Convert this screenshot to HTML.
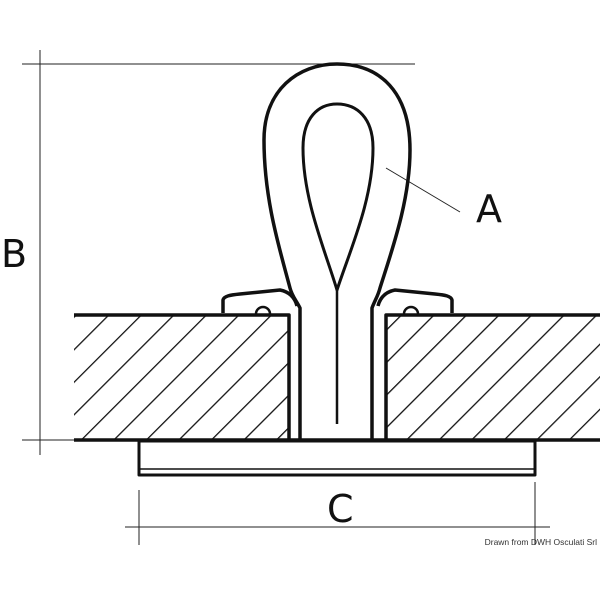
<!DOCTYPE html>
<html><head><meta charset="utf-8"><style>html,body{margin:0;padding:0;background:#fff}svg{display:block}</style></head><body>
<svg width="600" height="600" viewBox="0 0 600 600" xmlns="http://www.w3.org/2000/svg">
<defs>
<pattern id="h" patternUnits="userSpaceOnUse" width="23" height="23" patternTransform="rotate(45)">
<line x1="0" y1="0" x2="0" y2="23" stroke="#111" stroke-width="2.6"/>
</pattern>
</defs>
<g stroke="#222" stroke-width="1" fill="none">
<line x1="22" y1="64" x2="415" y2="64"/>
<line x1="40" y1="50" x2="40" y2="455"/>
<line x1="22" y1="440" x2="74" y2="440"/>
<line x1="125" y1="527" x2="550" y2="527"/>
<line x1="139" y1="490" x2="139" y2="545"/>
<line x1="535" y1="482" x2="535" y2="545"/>
<line x1="386" y1="168" x2="460" y2="212"/>
</g>
<rect x="74" y="315" width="215" height="125" fill="url(#h)"/>
<rect x="386" y="315" width="214" height="125" fill="url(#h)"/>
<g stroke="#111" stroke-width="3.5" fill="none" stroke-linejoin="round">
<path d="M74 315 H289 V440"/>
<path d="M600 315 H386 V440"/>
<line x1="74" y1="440" x2="600" y2="440"/>
<rect x="139" y="441" width="396" height="34" stroke-width="3"/>
<line x1="139" y1="469" x2="535" y2="469" stroke-width="1.5"/>
<path d="M300 440 V308 C296 300 292 296 290 288 C280 250 264 200 264 140 C264 90 298 64 337 64 C380 64 410 92 410 150 C410 200 392 250 380 288 C378 296 375 300 372 308 V440"/>
<path d="M337 290 C325 250 303 200 303 148 C303 118 318 104 337 104 C357 104 373 118 373 148 C373 200 350 250 337 290 Z" stroke-width="3"/>
<line x1="337" y1="290" x2="337" y2="424" stroke-width="2.5"/>
<path d="M223 313 V300 C224 296 230 295 240 294 L280 290 C290 292 295 298 297 306"/>
<path d="M452 313 V300 C451 296 445 295 435 294 L395 290 C385 292 380 298 378 306"/>
<path d="M256 314 A7 7 0 0 1 270 314" stroke-width="2.5"/>
<path d="M404 314 A7 7 0 0 1 418 314" stroke-width="2.5"/>
</g>
<g font-family="'DejaVu Sans','Liberation Sans',sans-serif" fill="#111">
<text x="1" y="267" font-size="38">B</text>
<text x="476" y="222" font-size="38">A</text>
<text x="327" y="522" font-size="38">C</text>
<text x="597" y="545" font-size="8.5" text-anchor="end" fill="#333" font-family="'Liberation Sans',sans-serif">Drawn from DWH Osculati Srl</text>
</g>
</svg>
</body></html>
